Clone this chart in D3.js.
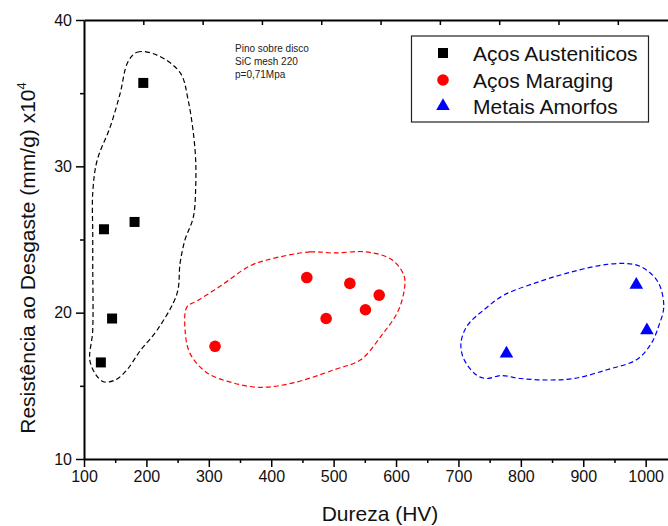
<!DOCTYPE html>
<html>
<head>
<meta charset="utf-8">
<script src="https://cdn.jsdelivr.net/npm/d3@7"></script>
<style>
  body { margin: 0; background: #fff; }
  svg { display: block; font-family: Arial, "Liberation Sans", sans-serif; }
</style>
</head>
<body>
<svg id="chart" width="668" height="526"></svg>
<script>
// ---- data ----
const austeniticos = [
  { x: 127, y: 16.6 }, { x: 145, y: 19.6 }, { x: 132, y: 25.7 },
  { x: 181, y: 26.2 }, { x: 195, y: 35.7 }
];
const maraging = [
  { x: 310, y: 17.7 }, { x: 457, y: 22.4 }, { x: 488, y: 19.6 },
  { x: 526, y: 22.0 }, { x: 551, y: 20.2 }, { x: 573, y: 21.2 }
];
const amorfos = [
  { x: 777, y: 17.2 }, { x: 985, y: 21.9 }, { x: 1002, y: 18.8 }
];

// hand drawn group outlines (data units)
const outlineAust = [
  [170, 37.1], [185, 37.8], [217, 37.6], [254, 36.4], [267, 34.5], [278, 31.1],
  [279, 28.6], [275, 26.5], [262, 25.0], [254, 23.4], [249, 21.3], [217, 18.8],
  [190, 17.4], [169, 16.1], [150, 15.4], [130, 15.3], [110, 16.6], [114, 18.8],
  [114, 23.4], [114, 25.4], [114, 28.2], [121, 30.4], [142, 32.7], [158, 35.0]
];
const outlineMar = [
  [393, 23.6], [462, 24.15], [501, 24.08], [553, 24.15], [594, 23.6], [613, 22.5],
  [613, 21.5], [602, 20.0], [576, 18.4], [544, 16.8], [501, 16.1], [435, 15.2],
  [382, 14.9], [339, 15.2], [297, 15.9], [270, 17.2], [262, 18.8], [265, 20.4],
  [281, 20.8], [318, 21.8], [366, 23.2]
];
const outlineAmo = [
  [714, 19.1], [704, 17.9], [709, 16.8], [730, 15.7], [746, 15.5], [768, 15.7],
  [800, 15.5], [842, 15.4], [885, 15.5], [938, 16.1], [986, 16.8], [1009, 17.9],
  [1021, 19.1], [1029, 20.4], [1021, 22.0], [1002, 22.9], [981, 23.3], [938, 23.3],
  [874, 22.7], [821, 22.0], [773, 21.2], [741, 20.2]
];

const xTicks = [100, 200, 300, 400, 500, 600, 700, 800, 900, 1000];
const yTicks = [10, 20, 30, 40];
const legendNames = ['Aços Austeniticos', 'Aços Maraging', 'Metais Amorfos'];
const noteLines = ['Pino sobre disco', 'SiC mesh 220', 'p=0,71Mpa'];

// ---- layout ----
const svg = d3.select('#chart');
const mLeft = 84, mRight = 670, mTop = 20, mBottom = 459;

const x = d3.scaleLinear().domain([100, 1039]).range([mLeft, mRight]);
const xTop = d3.scaleLinear().domain([100, 1088]).range([mLeft, mRight]);
const y = d3.scaleLinear().domain([10, 40]).range([mBottom, mTop]);

// bottom axis
svg.append('g').attr('transform', `translate(0,${mBottom})`)
  .call(d3.axisBottom(x).tickValues(xTicks).tickFormat(d3.format('d'))
    .tickSize(8).tickSizeOuter(0).tickPadding(4));
svg.append('g').attr('transform', `translate(0,${mBottom})`)
  .call(d3.axisBottom(x).tickValues(d3.range(150, 1040, 100)).tickSize(4).tickFormat(''))
  .call(g => g.select('.domain').remove());

// top axis (inward ticks)
svg.append('g').attr('transform', `translate(0,${mTop})`)
  .call(d3.axisBottom(xTop).tickValues(d3.range(200, 1088, 100)).tickSize(5)
    .tickSizeOuter(0).tickFormat(''));

// left axis
svg.append('g').attr('transform', `translate(${mLeft},0)`)
  .call(d3.axisLeft(y).tickValues(yTicks).tickSize(8).tickSizeOuter(0).tickPadding(4));
svg.append('g').attr('transform', `translate(${mLeft},0)`)
  .call(d3.axisLeft(y).tickValues([15, 25, 35]).tickSize(4).tickFormat(''))
  .call(g => g.select('.domain').remove());

svg.selectAll('.domain').attr('stroke', '#000').attr('stroke-width', 2);
svg.selectAll('.tick line').attr('stroke', '#000').attr('stroke-width', 1.5);
svg.selectAll('.tick text').attr('font-size', 16).attr('fill', '#111')
  .attr('font-family', 'Arial, "Liberation Sans", sans-serif');

// axis titles
svg.append('text')
  .attr('x', 380).attr('y', 521)
  .attr('text-anchor', 'middle').attr('font-size', 21).attr('fill', '#111')
  .text('Dureza (HV)');

const yTitle = svg.append('text')
  .attr('transform', 'translate(35,258) rotate(-90)')
  .attr('text-anchor', 'middle').attr('font-size', 21).attr('fill', '#111');
yTitle.append('tspan').text('Resistência ao Desgaste (mm/g) x10');
yTitle.append('tspan').attr('font-size', 13).attr('dy', -9).text('4');

// outlines
const line = d3.line()
  .x(d => x(d[0])).y(d => y(d[1]))
  .curve(d3.curveCatmullRomClosed.alpha(0.5));

[[outlineAust, '#000'], [outlineMar, '#ff0000'], [outlineAmo, '#0000ff']].forEach(([pts, c]) => {
  svg.append('path')
    .attr('d', line(pts))
    .attr('fill', 'none')
    .attr('stroke', c)
    .attr('stroke-width', 1.2)
    .attr('stroke-dasharray', '5,3');
});

// markers
const tri = d3.symbol().type(d3.symbolTriangle).size(80);

svg.append('g').selectAll('rect').data(austeniticos).enter().append('rect')
  .attr('x', d => x(d.x) - 5).attr('y', d => y(d.y) - 5)
  .attr('width', 10).attr('height', 10).attr('fill', '#000');

svg.append('g').selectAll('circle').data(maraging).enter().append('circle')
  .attr('cx', d => x(d.x)).attr('cy', d => y(d.y)).attr('r', 5.8).attr('fill', '#ff0000');

svg.append('g').selectAll('path').data(amorfos).enter().append('path')
  .attr('d', tri)
  .attr('transform', d => `translate(${x(d.x)},${y(d.y)})`)
  .attr('fill', '#0000ff');

// annotation
svg.append('g').selectAll('text').data(noteLines).enter().append('text')
  .attr('x', 235).attr('y', (d, i) => 52 + i * 13)
  .attr('font-size', 10).attr('fill', '#222')
  .text(d => d);

// legend
const lg = svg.append('g');
lg.append('rect')
  .attr('x', 411.5).attr('y', 36).attr('width', 237).attr('height', 86)
  .attr('fill', '#fff').attr('stroke', '#222').attr('stroke-width', 1.2);

const rowY = [53, 80, 106];
const legColors = ['#000', '#ff0000', '#0000ff'];
legendNames.forEach((name, i) => {
  const cy = rowY[i];
  if (i === 0) {
    lg.append('rect').attr('x', 438).attr('y', cy - 5).attr('width', 10).attr('height', 10).attr('fill', legColors[i]);
  } else if (i === 1) {
    lg.append('circle').attr('cx', 443).attr('cy', cy).attr('r', 5.8).attr('fill', legColors[i]);
  } else {
    lg.append('path').attr('d', tri).attr('transform', `translate(443,${cy})`).attr('fill', legColors[i]);
  }
  lg.append('text')
    .attr('x', 473).attr('y', cy + 7.5)
    .attr('font-size', 21).attr('fill', '#111')
    .text(name);
});
</script>
</body>
</html>
